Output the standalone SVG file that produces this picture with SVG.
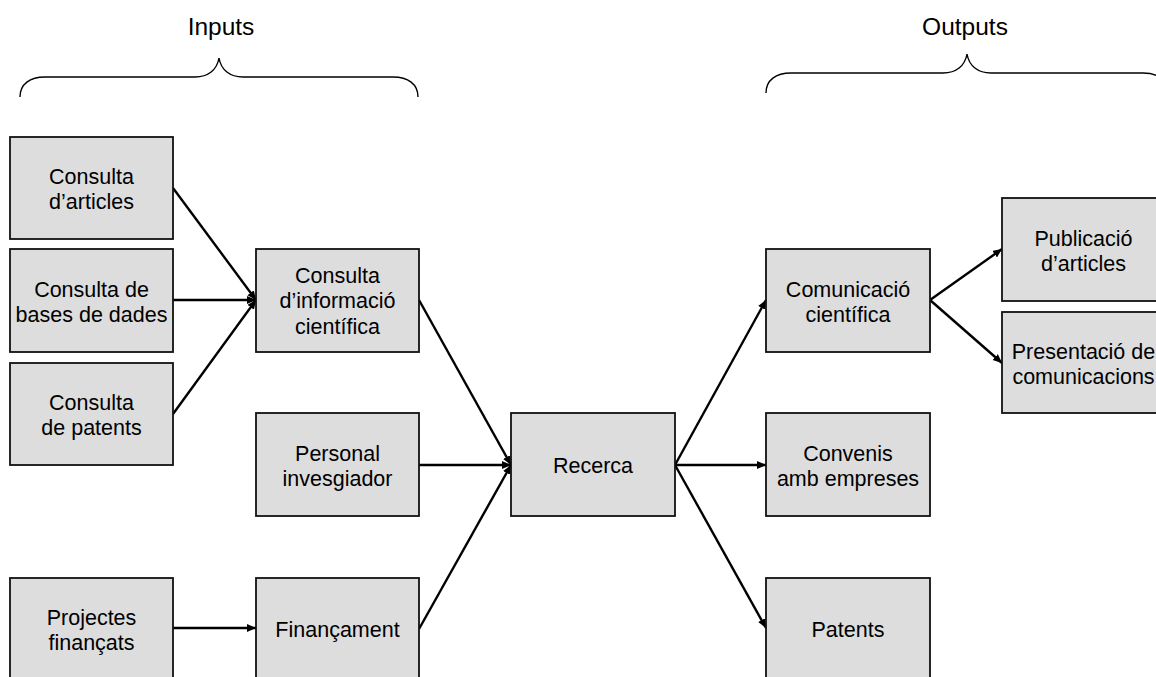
<svg xmlns="http://www.w3.org/2000/svg" width="1156" height="677" viewBox="0 0 1156 677">
<style>
.box{fill:#dddddd;stroke:#111;stroke-width:1.8}
.t{font-family:"Liberation Sans",Arial,sans-serif;font-size:21.5px;fill:#000;text-anchor:middle}
.h{font-family:"Liberation Sans",Arial,sans-serif;font-size:24.5px;fill:#000;text-anchor:middle}
.c{stroke:#000;stroke-width:2.4;fill:none;marker-end:url(#ah)}
.br{stroke:#000;stroke-width:1.4;fill:none}
</style>
<defs>
<marker id="ah" markerUnits="userSpaceOnUse" markerWidth="10" markerHeight="9" refX="9" refY="4" orient="auto">
<path d="M0,0 L9,4 L0,8 z" fill="#000"/>
</marker>
</defs>
<rect width="1156" height="677" fill="#fff"/>
<g id="labels">
<text class="h" x="221" y="35">Inputs</text>
<text class="h" x="965" y="35">Outputs</text>
<path class="br" d="M20,97 C20,84 30,77 45,77 L195,77 C208,77 217,70 219,58 C221,70 230,77 243,77 L393,77 C408,77 418,84 418,97"/>
<path class="br" d="M766,93 C766,80 776,73 791,73 L943,73 C956,73 965,66 967,54 C969,66 978,73 991,73 L1143,73 C1158,73 1168,80 1168,93"/>
</g>
<g id="connectors">
<line class="c" x1="173" y1="188" x2="256" y2="300"/>
<line class="c" x1="173" y1="300" x2="256" y2="300"/>
<line class="c" x1="173" y1="414" x2="256" y2="300"/>
<line class="c" x1="173" y1="628" x2="256" y2="628"/>
<line class="c" x1="419" y1="300" x2="511" y2="465"/>
<line class="c" x1="419" y1="465" x2="511" y2="465"/>
<line class="c" x1="419" y1="629" x2="511" y2="465"/>
<line class="c" x1="675" y1="465" x2="766" y2="300"/>
<line class="c" x1="675" y1="465" x2="766" y2="465"/>
<line class="c" x1="675" y1="465" x2="766" y2="628"/>
<line class="c" x1="930" y1="300" x2="1002" y2="249"/>
<line class="c" x1="930" y1="300" x2="1002" y2="363"/>
</g>
<g id="n1"><rect class="box" x="10" y="137" width="163" height="102"/><text class="t" x="91.5" y="184">Consulta</text><text class="t" x="91.5" y="209">d’articles</text></g>
<g id="n2"><rect class="box" x="10" y="249" width="163" height="103"/><text class="t" x="91.5" y="297">Consulta de</text><text class="t" x="91.5" y="322">bases de dades</text></g>
<g id="n3"><rect class="box" x="10" y="363" width="163" height="102"/><text class="t" x="91.5" y="410">Consulta</text><text class="t" x="91.5" y="435">de patents</text></g>
<g id="n4"><rect class="box" x="10" y="578" width="163" height="102"/><text class="t" x="91.5" y="625">Projectes</text><text class="t" x="91.5" y="650">finançats</text></g>
<g id="n5"><rect class="box" x="256" y="249" width="163" height="103"/><text class="t" x="337.5" y="283">Consulta</text><text class="t" x="337.5" y="308">d’informació</text><text class="t" x="337.5" y="334">científica</text></g>
<g id="n6"><rect class="box" x="256" y="413" width="163" height="103"/><text class="t" x="337.5" y="461">Personal</text><text class="t" x="337.5" y="486">invesgiador</text></g>
<g id="n7"><rect class="box" x="256" y="578" width="163" height="102"/><text class="t" x="337.5" y="637">Finançament</text></g>
<g id="n8"><rect class="box" x="511" y="413" width="164" height="103"/><text class="t" x="593" y="473">Recerca</text></g>
<g id="n9"><rect class="box" x="766" y="249" width="164" height="103"/><text class="t" x="848" y="297">Comunicació</text><text class="t" x="848" y="322">científica</text></g>
<g id="n10"><rect class="box" x="766" y="413" width="164" height="103"/><text class="t" x="848" y="461">Convenis</text><text class="t" x="848" y="486">amb empreses</text></g>
<g id="n11"><rect class="box" x="766" y="578" width="164" height="102"/><text class="t" x="848" y="637">Patents</text></g>
<g id="n12"><rect class="box" x="1002" y="198" width="163" height="103"/><text class="t" x="1083.5" y="246">Publicació</text><text class="t" x="1083.5" y="271">d’articles</text></g>
<g id="n13"><rect class="box" x="1002" y="312" width="163" height="101"/><text class="t" x="1083.5" y="359">Presentació de</text><text class="t" x="1083.5" y="384">comunicacions</text></g>
</svg>
